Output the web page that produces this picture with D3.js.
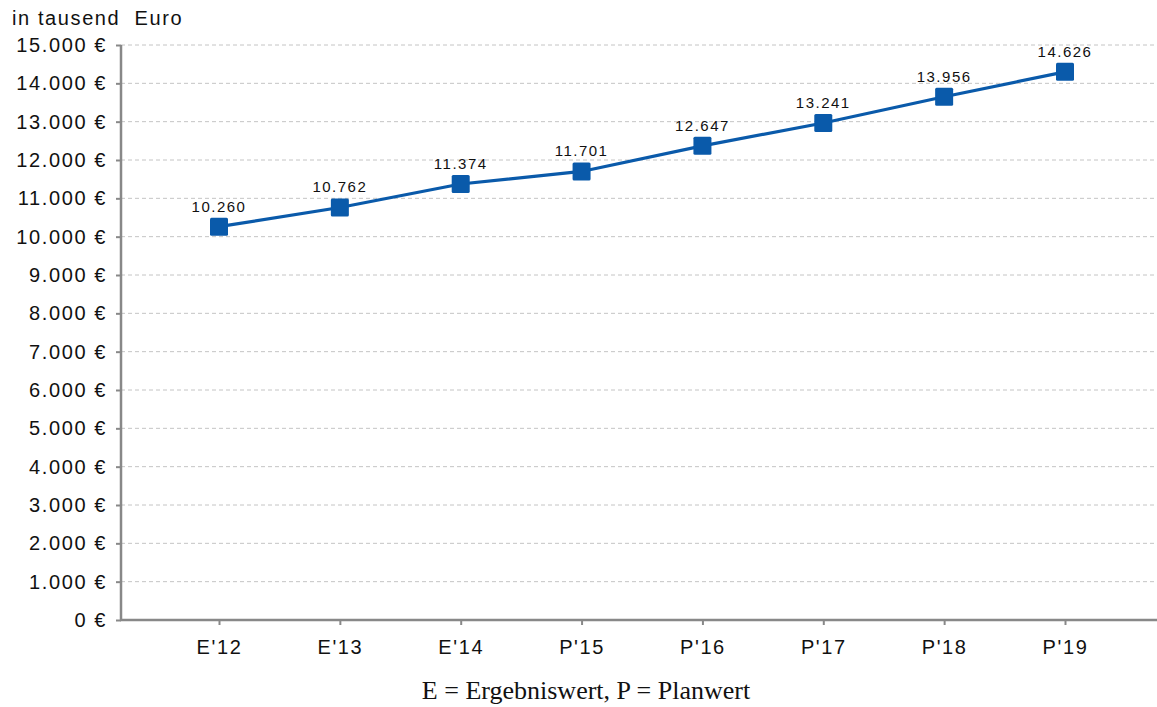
<!DOCTYPE html>
<html>
<head>
<meta charset="utf-8">
<script src="https://cdn.jsdelivr.net/npm/d3@7/dist/d3.min.js"></script>
<style>
  html, body { margin: 0; padding: 0; background: #fff; }
  svg { display: block; }
</style>
</head>
<body>
<svg id="chart" width="1157" height="707"></svg>
<script>
const categories = ["E'12", "E'13", "E'14", "P'15", "P'16", "P'17", "P'18", "P'19"];
const values = [10260, 10762, 11374, 11701, 12370, 12965, 13650, 14300];
const valueLabels = ["10.260", "10.762", "11.374", "11.701", "12.647", "13.241", "13.956", "14.626"];
const yTicks = [0, 1000, 2000, 3000, 4000, 5000, 6000, 7000, 8000, 9000, 10000, 11000, 12000, 13000, 14000, 15000];
const yTitle = "in tausend  Euro";
const footer = "E = Ergebniswert, P = Planwert";

(function () {
const svg = d3.select("#chart");
const mLeft = 121, mRight = 1155, mTop = 45, mBottom = 620;
const sans = "Liberation Sans, Arial, sans-serif";

const y = d3.scaleLinear().domain([0, 15000]).range([mBottom, mTop]);
const x = d3.scalePoint().domain(categories).range([219, 1065]);

const fmt = v => (v === 0 ? "0" : d3.format(",")(v).replace(/,/g, ".")) + " €";

// gridlines
svg.append("g").selectAll("line").data(yTicks.filter(d => d > 0)).join("line")
  .attr("x1", mLeft).attr("x2", mRight)
  .attr("y1", d => y(d)).attr("y2", d => y(d))
  .attr("stroke", "#c4c4c4").attr("stroke-width", 1)
  .attr("stroke-dasharray", "4,3");

// y axis
const yAxis = d3.axisLeft(y).tickValues(yTicks).tickFormat(fmt).tickSize(5).tickPadding(9);
const gy = svg.append("g").attr("transform", `translate(${mLeft},0)`).call(yAxis);
gy.select(".domain").remove();
gy.selectAll(".tick line").attr("stroke", "#888").attr("stroke-width", 2);
gy.selectAll(".tick text").attr("font-family", sans)
  .attr("font-size", 20).attr("letter-spacing", 1.6).attr("fill", "#111");
svg.append("line").attr("x1", mLeft).attr("x2", mLeft).attr("y1", mTop).attr("y2", mBottom)
  .attr("stroke", "#888").attr("stroke-width", 2.5);

// x axis
const xAxis = d3.axisBottom(x).tickSize(5).tickPadding(15);
const gx = svg.append("g").attr("transform", `translate(0,${mBottom})`).call(xAxis);
gx.select(".domain").remove();
gx.selectAll(".tick line").attr("stroke", "#888").attr("stroke-width", 2);
gx.selectAll(".tick text").attr("font-family", sans)
  .attr("font-size", 20).attr("letter-spacing", 1.6).attr("fill", "#111");
svg.append("line").attr("x1", mLeft - 1).attr("x2", 1157).attr("y1", mBottom).attr("y2", mBottom)
  .attr("stroke", "#888").attr("stroke-width", 2.5);

// line
const line = d3.line().x((d, i) => x(categories[i])).y(d => y(d));
svg.append("path").datum(values).attr("d", line)
  .attr("fill", "none").attr("stroke", "#0a5aaa").attr("stroke-width", 3.2);

// markers
const ms = 18;
svg.append("g").selectAll("rect").data(values).join("rect")
  .attr("x", (d, i) => x(categories[i]) - ms / 2)
  .attr("y", d => y(d) - ms / 2)
  .attr("width", ms).attr("height", ms).attr("rx", 1.5)
  .attr("fill", "#0a5aaa");

// value labels
svg.append("g").selectAll("text").data(values).join("text")
  .attr("x", (d, i) => x(categories[i]))
  .attr("y", d => y(d) - 15)
  .attr("text-anchor", "middle")
  .attr("font-family", sans)
  .attr("font-size", 15).attr("letter-spacing", 1.5).attr("fill", "#111")
  .text((d, i) => valueLabels[i]);

// title
svg.append("text").attr("x", 12).attr("y", 25)
  .attr("font-family", sans)
  .attr("font-size", 20).attr("letter-spacing", 1.6).attr("fill", "#111")
  .style("white-space", "pre").text(yTitle);

// footer
svg.append("text").attr("x", 586).attr("y", 699).attr("text-anchor", "middle")
  .attr("font-family", "Liberation Serif, Times New Roman, serif")
  .attr("font-size", 26).attr("fill", "#111").text(footer);
})();
</script>
</body>
</html>
